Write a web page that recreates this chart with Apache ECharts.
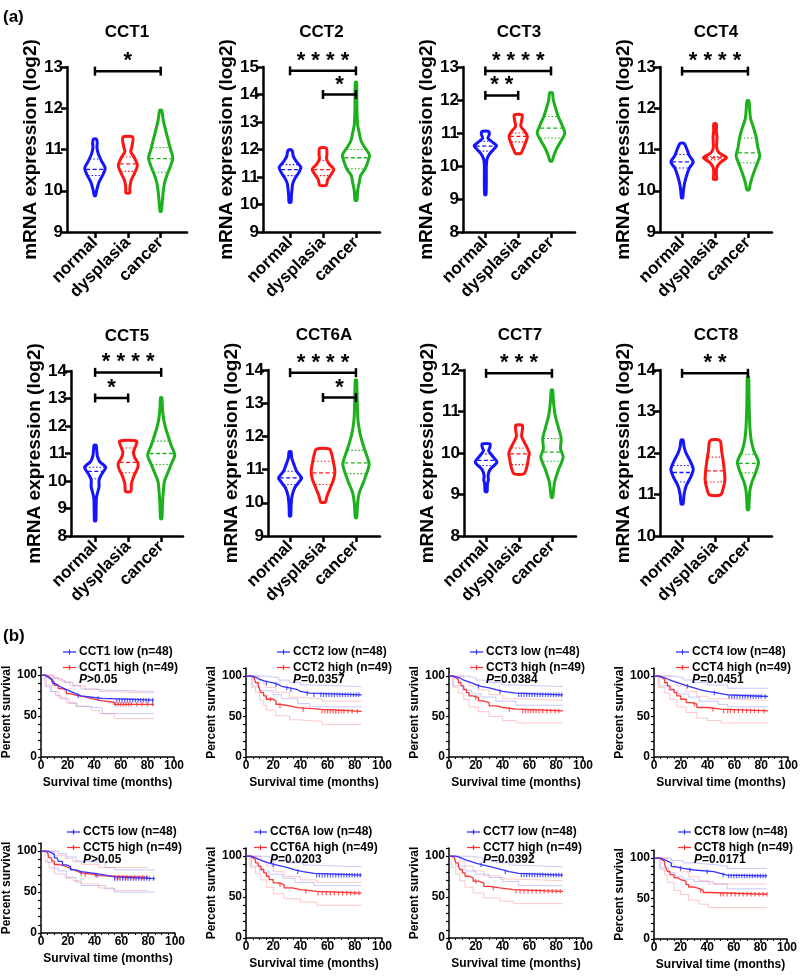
<!DOCTYPE html>
<html><head><meta charset="utf-8">
<script src="https://cdn.jsdelivr.net/npm/echarts@6/dist/echarts.min.js"></script>
<style>html,body{margin:0;padding:0;background:#fff}#c{width:800px;height:976px}</style>
</head><body><div id="c"></div>
<script>
// ---------------- DATA ----------------
const groups = ['normal', 'dysplasia', 'cancer'];
const violinGenes = ['CCT1', 'CCT2', 'CCT3', 'CCT4', 'CCT5', 'CCT6A', 'CCT7', 'CCT8'];
const violinYMin = [9, 9, 8, 9, 8, 9, 8, 10];
const violinYMax = [13, 15, 13, 13, 14, 14, 12, 14];

// violin profiles: [log2 expression, half-width in group units]
const cct1Normal = [[9.88,0.02],[10.0,0.05],[10.2,0.12],[10.4,0.25],[10.55,0.31],[10.72,0.2],[10.9,0.1],[11.05,0.06],[11.15,0.07],[11.25,0.05]];
const cct1Dysplasia = [[9.95,0.06],[10.05,0.06],[10.25,0.1],[10.45,0.22],[10.62,0.29],[10.8,0.2],[10.95,0.09],[11.05,0.12],[11.3,0.15]];
const cct1Cancer = [[9.5,0.02],[9.75,0.05],[10.0,0.08],[10.2,0.12],[10.4,0.2],[10.6,0.3],[10.8,0.37],[11.0,0.3],[11.25,0.22],[11.5,0.14],[11.7,0.08],[11.95,0.03]];
const cct2Normal = [[10.08,0.03],[10.3,0.04],[10.55,0.06],[10.75,0.08],[10.95,0.15],[11.15,0.26],[11.35,0.33],[11.55,0.2],[11.75,0.1],[11.9,0.08],[11.98,0.05]];
const cct2Dysplasia = [[10.7,0.1],[10.9,0.14],[11.1,0.25],[11.28,0.33],[11.45,0.2],[11.65,0.11],[11.85,0.12],[12.05,0.1]];
const cct2Cancer = [[10.15,0.03],[10.5,0.05],[10.8,0.1],[11.05,0.14],[11.3,0.28],[11.55,0.36],[11.8,0.41],[12.05,0.28],[12.3,0.16],[12.6,0.1],[12.9,0.05],[13.5,0.03],[14.45,0.02]];
const cct3Normal = [[9.13,0.02],[9.6,0.03],[10.0,0.03],[10.2,0.05],[10.35,0.12],[10.5,0.25],[10.62,0.34],[10.75,0.18],[10.85,0.08],[10.95,0.12],[11.05,0.1]];
const cct3Dysplasia = [[10.38,0.08],[10.5,0.14],[10.7,0.22],[10.9,0.28],[11.05,0.2],[11.2,0.08],[11.35,0.1],[11.55,0.12]];
const cct3Cancer = [[10.15,0.03],[10.3,0.08],[10.5,0.16],[10.75,0.3],[11.0,0.42],[11.25,0.33],[11.5,0.22],[11.75,0.14],[12.0,0.07],[12.22,0.04]];
const cct4Normal = [[9.83,0.02],[10.0,0.04],[10.2,0.08],[10.4,0.15],[10.55,0.22],[10.7,0.34],[10.85,0.22],[11.0,0.15],[11.15,0.06]];
const cct4Dysplasia = [[10.28,0.05],[10.4,0.04],[10.55,0.05],[10.68,0.15],[10.8,0.35],[10.92,0.12],[11.05,0.05],[11.3,0.06],[11.45,0.04],[11.62,0.04]];
const cct4Cancer = [[10.02,0.03],[10.2,0.08],[10.45,0.18],[10.7,0.3],[10.85,0.36],[11.05,0.3],[11.3,0.25],[11.5,0.18],[11.75,0.08],[12.0,0.05],[12.18,0.03]];
const cct5Normal = [[8.55,0.02],[9.0,0.03],[9.4,0.04],[9.6,0.08],[9.8,0.12],[10.05,0.12],[10.25,0.2],[10.5,0.32],[10.7,0.14],[10.9,0.07],[11.1,0.05],[11.3,0.03]];
const cct5Dysplasia = [[9.62,0.08],[9.9,0.1],[10.2,0.18],[10.45,0.28],[10.65,0.3],[10.85,0.2],[11.05,0.16],[11.25,0.22],[11.45,0.26]];
const cct5Cancer = [[8.63,0.02],[9.2,0.04],[9.7,0.07],[10.0,0.1],[10.3,0.2],[10.6,0.3],[10.95,0.41],[11.3,0.3],[11.6,0.22],[11.9,0.14],[12.2,0.08],[12.6,0.04],[13.03,0.02]];
const cct6aNormal = [[9.6,0.02],[9.9,0.03],[10.2,0.06],[10.45,0.14],[10.6,0.25],[10.75,0.35],[10.95,0.2],[11.15,0.12],[11.35,0.05],[11.54,0.03]];
const cct6aDysplasia = [[10.02,0.07],[10.2,0.12],[10.45,0.22],[10.7,0.32],[10.95,0.36],[11.2,0.32],[11.4,0.28],[11.62,0.2]];
const cct6aCancer = [[9.55,0.02],[10.0,0.05],[10.3,0.1],[10.6,0.22],[10.9,0.33],[11.17,0.4],[11.5,0.3],[11.8,0.2],[12.1,0.12],[12.5,0.06],[13.0,0.04],[13.7,0.02]];
const cct7Normal = [[9.07,0.03],[9.25,0.04],[9.35,0.07],[9.45,0.06],[9.6,0.12],[9.78,0.33],[9.92,0.2],[10.05,0.08],[10.15,0.12],[10.22,0.12]];
const cct7Dysplasia = [[9.5,0.15],[9.7,0.25],[9.85,0.28],[10.0,0.31],[10.2,0.2],[10.4,0.08],[10.55,0.1],[10.67,0.1]];
const cct7Cancer = [[8.93,0.02],[9.3,0.08],[9.6,0.2],[9.9,0.34],[10.1,0.26],[10.35,0.28],[10.6,0.2],[10.9,0.1],[11.2,0.05],[11.52,0.02]];
const cct8Normal = [[10.77,0.03],[11.0,0.06],[11.2,0.12],[11.4,0.25],[11.6,0.34],[11.8,0.25],[12.0,0.12],[12.15,0.06],[12.31,0.03]];
const cct8Dysplasia = [[10.99,0.17],[11.15,0.25],[11.35,0.3],[11.6,0.28],[11.85,0.24],[12.05,0.2],[12.3,0.15]];
const cct8Cancer = [[10.63,0.02],[10.9,0.04],[11.1,0.06],[11.3,0.12],[11.5,0.22],[11.78,0.32],[12.05,0.18],[12.3,0.1],[12.6,0.06],[13.0,0.04],[13.4,0.03],[13.84,0.02]];

// quartiles per group: [Q1, median, Q3]
const cct1Quart = [[10.37,10.52,10.77],[10.47,10.65,10.82],[10.45,10.78,11.05]];
const cct2Quart = [[11.05,11.27,11.45],[11.05,11.27,11.6],[11.3,11.7,12.0]];
const cct3Quart = [[10.45,10.6,10.75],[10.73,10.9,11.0],[10.85,11.15,11.5]];
const cct4Quart = [[10.55,10.7,10.88],[10.75,10.8,10.83],[10.68,10.92,11.28]];
const cct5Quart = [[10.08,10.35,10.5],[10.3,10.68,11.2],[10.6,11.0,11.45]];
const cct6aQuart = [[10.55,10.75,10.95],[10.55,10.9,11.25],[10.88,11.2,11.58]];
const cct7Quart = [[9.7,9.82,9.98],[9.72,9.98,10.12],[9.8,10.02,10.35]];
const cct8Quart = [[11.3,11.53,11.7],[11.3,11.57,11.9],[11.52,11.75,11.97]];

// significance brackets: [from group, to group, level, stars]
const cct1Sig = [[1,3,12.9,'*']];
const cct2Sig = [[1,3,14.86,'****'],[2,3,14.0,'*']];
const cct3Sig = [[1,3,12.88,'****'],[1,2,12.14,'**']];
const cct4Sig = [[1,3,12.9,'****']];
const cct5Sig = [[1,3,13.95,'****'],[1,2,13.02,'*']];
const cct6aSig = [[1,3,13.92,'****'],[2,3,13.17,'*']];
const cct7Sig = [[1,3,11.92,'***']];
const cct8Sig = [[1,3,13.92,'**']];

// Kaplan-Meier: [months, percent survival]
const kmGenes = ['CCT1','CCT2','CCT3','CCT4','CCT5','CCT6A','CCT7','CCT8'];
const kmPValues = ['>0.05','=0.0357','=0.0384','=0.0451','>0.05','=0.0203','=0.0392','=0.0171'];
const kmXTicks = [0, 20, 40, 60, 80, 100];
const kmYTicks = [0, 50, 100];

const cct1Low = [[0,100],[3,97.9],[5,95.8],[7,93.7],[9,89.5],[11,87.4],[13,85.3],[15,83.2],[18,81.1],[21,79],[24,76.9],[27,74.8],[30,72.7],[40,71.6],[46,69.4],[85,69.4]];
const cct1High = [[0,100],[4,98],[6,95.9],[8,91.8],[10,87.7],[13,83.6],[16,81.6],[19,77.5],[22,75.5],[26,73.4],[33,71.3],[38,69.2],[44,66.9],[55,64.4],[85,64.4]];
const cct1LowUp = [[0,100],[5,100],[9,97],[13,94],[18,91],[24,87],[30,83],[40,82],[46,80],[85,80]];
const cct1LowDn = [[0,100],[3,86],[7,80],[11,75],[15,71],[21,66],[27,62],[30,60],[46,53],[85,53]];
const cct1HighUp = [[0,100],[6,100],[10,96],[16,92],[22,87],[33,83],[44,80],[55,78],[85,78]];
const cct1HighDn = [[0,100],[4,88],[8,80],[13,73],[19,66],[26,62],[38,57],[44,53],[55,47],[85,47]];
const cct1LowCens = [28,43,57,59,61,63,65,67,69,71,73,75,77,79,81,84];
const cct1HighCens = [56,58,60,62,64,66,68,72,76,80,84];

const cct2Low = [[0,100],[5,97.9],[8,95.8],[10,93.7],[14,91.6],[20,89.5],[24,87.4],[26,85.3],[32,83.2],[38,81],[40,78.9],[47,76.8],[85,76.8]];
const cct2High = [[0,100],[4,98],[6,95.9],[7,91.8],[9,87.7],[10,83.6],[11,79.5],[13,75.5],[15,71.4],[20,69.3],[22,65.2],[25,63.1],[32,61],[38,58.8],[56,56.5],[85,56.5]];
const cct2LowUp = [[0,100],[8,100],[14,98],[24,95],[32,92],[40,89],[47,87],[85,87]];
const cct2LowDn = [[0,100],[5,88],[10,82],[20,77],[26,72],[38,66],[47,62],[85,62]];
const cct2HighUp = [[0,100],[7,100],[10,95],[13,90],[15,86],[22,80],[32,74],[38,72],[56,69],[85,69]];
const cct2HighDn = [[0,100],[4,86],[7,80],[10,70],[13,64],[15,58],[22,51],[32,46],[38,44],[56,40],[85,40]];
const cct2LowCens = [15,22,30,33,45,50,55,57,59,61,63,65,67,69,71,73,75,77,79,81,83];
const cct2HighCens = [18,25,42,56,58,60,62,64,66,68,70,72,75,78,82];

const cct3Low = [[0,100],[3,97.9],[8,95.8],[10,93.7],[13,91.6],[17,89.5],[20,87.4],[24,85.3],[30,83.2],[35,81.1],[40,79],[50,76.8],[85,76.8]];
const cct3High = [[0,100],[3,98],[5,95.9],[7,91.8],[9,87.8],[11,83.7],[13,79.6],[15,75.5],[18,73.5],[22,69.4],[25,67.3],[30,63.2],[35,61.2],[40,59.1],[50,57],[85,57]];
const cct3LowUp = [[0,100],[8,100],[13,98],[20,95],[30,92],[40,89],[50,87],[85,87]];
const cct3LowDn = [[0,100],[3,88],[10,82],[17,78],[24,74],[35,69],[50,64],[85,64]];
const cct3HighUp = [[0,100],[7,100],[11,94],[15,88],[22,83],[30,77],[40,72],[50,70],[85,70]];
const cct3HighDn = [[0,100],[3,86],[7,79],[11,71],[15,62],[22,56],[30,50],[40,45],[50,42],[85,42]];
const cct3LowCens = [22,38,52,54,56,58,60,62,64,66,68,70,72,74,76,78,80,82,84];
const cct3HighCens = [20,45,55,57,59,61,63,65,67,70,73,76,79,82];

const cct4Low = [[0,100],[4,97.9],[8,95.8],[11,93.7],[14,91.6],[18,89.5],[22,87.4],[26,85.3],[30,83.2],[34,81.1],[40,79],[48,76.9],[55,74.8],[85,74.8]];
const cct4High = [[0,100],[3,98],[6,95.9],[8,91.8],[10,87.8],[12,83.7],[15,79.6],[17,75.5],[20,71.4],[24,67.3],[28,65.3],[32,61.2],[40,59.1],[50,57],[85,57]];
const cct4LowUp = [[0,100],[8,100],[14,98],[22,95],[30,92],[40,89],[55,85],[85,85]];
const cct4LowDn = [[0,100],[4,88],[11,82],[18,78],[26,74],[34,69],[48,65],[55,62],[85,62]];
const cct4HighUp = [[0,100],[8,100],[12,94],[17,88],[24,81],[32,75],[40,72],[50,70],[85,70]];
const cct4HighDn = [[0,100],[3,86],[8,79],[12,71],[17,62],[24,55],[32,48],[40,45],[50,42],[85,42]];
const cct4LowCens = [25,45,56,58,60,62,64,66,68,70,72,74,76,78,80,83];
const cct4HighCens = [30,44,52,55,57,60,63,66,69,72,75,78,82];

const cct5Low = [[0,100],[5,97.9],[8,95.8],[10,91.7],[12,89.6],[13,87.5],[16,83.3],[19,81.2],[22,77.1],[26,75],[30,72.9],[40,70.8],[48,68.7],[55,66.5],[85,66.5]];
const cct5High = [[0,100],[3,98],[5,95.9],[6,91.8],[8,87.8],[10,83.7],[14,81.6],[18,79.6],[21,77.5],[24,75.5],[27,73.4],[30,71.3],[40,70.2],[43,68.1],[80,68.1]];
const cct5LowUp = [[0,100],[10,100],[13,97],[19,93],[26,88],[30,86],[48,80],[55,77],[85,77]];
const cct5LowDn = [[0,100],[5,86],[10,79],[13,76],[19,68],[26,62],[30,58],[48,54],[55,50],[85,50]];
const cct5HighUp = [[0,100],[6,100],[10,95],[18,91],[24,87],[30,84],[43,80],[80,80]];
const cct5HighDn = [[0,100],[3,87],[6,80],[10,72],[18,67],[24,64],[30,60],[43,55],[55,52],[80,52]];
const cct5LowCens = [30,41,55,57,59,61,63,65,67,69,71,73,75,77,79,81,84];
const cct5HighCens = [33,42,55,58,61,64,67,70,73,76,79];

const cct6aLow = [[0,100],[4,97.9],[7,95.8],[10,93.7],[13,91.6],[17,89.5],[22,87.4],[27,85.3],[32,83.2],[36,81.1],[42,79],[50,76.8],[85,76.8]];
const cct6aHigh = [[0,100],[3,98],[5,95.9],[7,91.8],[9,87.8],[11,83.7],[13,79.6],[15,75.5],[17,71.4],[20,67.3],[24,65.3],[28,61.2],[34,59.1],[40,57],[52,54.9],[85,54.9]];
const cct6aLowUp = [[0,100],[7,100],[13,98],[22,95],[32,92],[42,89],[50,87],[85,87]];
const cct6aLowDn = [[0,100],[4,88],[10,82],[17,78],[27,73],[36,68],[50,64],[85,64]];
const cct6aHighUp = [[0,100],[7,100],[11,94],[15,88],[20,81],[28,75],[40,71],[52,68],[85,68]];
const cct6aHighDn = [[0,100],[3,86],[7,79],[11,71],[15,62],[20,54],[28,48],[40,44],[52,40],[85,40]];
const cct6aLowCens = [20,38,52,54,56,58,60,62,64,66,68,70,72,74,76,78,80,82,84];
const cct6aHighCens = [25,44,53,56,59,62,65,68,71,74,77,80,83];

const cct7Low = [[0,100],[5,97.9],[9,95.8],[12,93.7],[16,91.6],[20,89.5],[25,87.4],[30,85.3],[35,83.2],[40,81.1],[45,79],[52,76.9],[85,76.9]];
const cct7High = [[0,100],[2,98],[4,95.9],[5,91.8],[7,87.8],[8,83.7],[10,79.6],[12,75.5],[15,73.5],[18,69.4],[22,67.3],[26,63.2],[30,61.2],[38,59.1],[48,57],[85,57]];
const cct7LowUp = [[0,100],[9,100],[16,98],[25,95],[35,92],[45,89],[52,87],[85,87]];
const cct7LowDn = [[0,100],[5,88],[12,82],[20,78],[30,74],[40,69],[52,64],[85,64]];
const cct7HighUp = [[0,100],[5,100],[8,94],[12,88],[18,82],[26,76],[38,72],[48,70],[85,70]];
const cct7HighDn = [[0,100],[2,86],[5,78],[8,70],[12,62],[18,55],[26,49],[38,45],[48,42],[85,42]];
const cct7LowCens = [24,42,54,56,58,60,62,64,66,68,70,72,74,76,78,80,82,84];
const cct7HighCens = [20,33,50,53,56,59,62,65,68,71,74,77,80,83];

const cct8Low = [[0,100],[5,97.9],[8,95.8],[11,93.7],[13,89.5],[16,87.4],[22,85.3],[30,83.2],[45,81.1],[50,79],[55,77.9],[85,77.9]];
const cct8High = [[0,100],[4,98],[6,95.9],[8,91.8],[9,87.8],[10,83.7],[12,79.6],[15,75.5],[18,73.5],[20,71.4],[24,67.3],[26,64.3],[30,62.2],[34,60.1],[37,57.5],[41,55.3],[85,55.3]];
const cct8LowUp = [[0,100],[8,100],[13,97],[22,94],[30,92],[45,90],[55,87],[85,87]];
const cct8LowDn = [[0,100],[5,88],[11,82],[16,77],[22,74],[30,71],[45,68],[55,62],[85,62]];
const cct8HighUp = [[0,100],[8,100],[10,95],[15,88],[20,83],[26,77],[34,72],[41,68],[85,68]];
const cct8HighDn = [[0,100],[4,86],[8,79],[10,70],[15,60],[20,55],[26,48],[34,43],[41,39],[85,39]];
const cct8LowCens = [20,27,40,52,56,58,60,62,64,66,68,70,72,74,76,78,80,82,84];
const cct8HighCens = [35,50,52,55,58,61,64,67,70,73,76,79,82,85];

// ---------------- ASSEMBLY ----------------
const violinSets = [
  [cct1Normal, cct1Dysplasia, cct1Cancer, cct1Quart, cct1Sig],
  [cct2Normal, cct2Dysplasia, cct2Cancer, cct2Quart, cct2Sig],
  [cct3Normal, cct3Dysplasia, cct3Cancer, cct3Quart, cct3Sig],
  [cct4Normal, cct4Dysplasia, cct4Cancer, cct4Quart, cct4Sig],
  [cct5Normal, cct5Dysplasia, cct5Cancer, cct5Quart, cct5Sig],
  [cct6aNormal, cct6aDysplasia, cct6aCancer, cct6aQuart, cct6aSig],
  [cct7Normal, cct7Dysplasia, cct7Cancer, cct7Quart, cct7Sig],
  [cct8Normal, cct8Dysplasia, cct8Cancer, cct8Quart, cct8Sig]
];
const kmSets = [
  [cct1Low, cct1High, cct1LowUp, cct1LowDn, cct1HighUp, cct1HighDn, cct1LowCens, cct1HighCens],
  [cct2Low, cct2High, cct2LowUp, cct2LowDn, cct2HighUp, cct2HighDn, cct2LowCens, cct2HighCens],
  [cct3Low, cct3High, cct3LowUp, cct3LowDn, cct3HighUp, cct3HighDn, cct3LowCens, cct3HighCens],
  [cct4Low, cct4High, cct4LowUp, cct4LowDn, cct4HighUp, cct4HighDn, cct4LowCens, cct4HighCens],
  [cct5Low, cct5High, cct5LowUp, cct5LowDn, cct5HighUp, cct5HighDn, cct5LowCens, cct5HighCens],
  [cct6aLow, cct6aHigh, cct6aLowUp, cct6aLowDn, cct6aHighUp, cct6aHighDn, cct6aLowCens, cct6aHighCens],
  [cct7Low, cct7High, cct7LowUp, cct7LowDn, cct7HighUp, cct7HighDn, cct7LowCens, cct7HighCens],
  [cct8Low, cct8High, cct8LowUp, cct8LowDn, cct8HighUp, cct8HighDn, cct8LowCens, cct8HighCens]
];

// layout (pixels)
const vLayout = [
  {left:67, top:67, w:120, h:165, xmin:0.15, xmax:3.8},
  {left:263, top:67, w:117, h:165, xmin:0.18, xmax:3.73},
  {left:463, top:67, w:112, h:165, xmin:0.32, xmax:3.73},
  {left:660, top:67, w:112, h:165, xmin:0.33, xmax:3.73},
  {left:71, top:371, w:112, h:165, xmin:0.27, xmax:3.66},
  {left:268, top:370, w:112, h:166, xmin:0.33, xmax:3.73},
  {left:464, top:370, w:112, h:166, xmin:0.33, xmax:3.73},
  {left:660, top:370, w:112, h:166, xmin:0.33, xmax:3.73}
];
const kmLayout = [
  {left:41, top:667, w:133, h:90, legX:63, legY:652},
  {left:246, top:668, w:136, h:89, legX:277, legY:652},
  {left:449, top:668, w:134, h:89, legX:470, legY:652},
  {left:654, top:668, w:134, h:89, legX:676, legY:652},
  {left:41, top:843, w:134, h:90, legX:67, legY:832},
  {left:246, top:848, w:136, h:90, legX:254, legY:832},
  {left:449, top:848, w:134, h:90, legX:467, legY:832},
  {left:654, top:850, w:133, h:89, legX:678, legY:832}
];

const FONT = '"Liberation Sans", Arial, Helvetica, sans-serif';
const vColors = ['#1414ff', '#ff1414', '#1cb01c'];
const kmBlue = '#3434ff', kmRed = '#ff3434';
const kmBlueCI = 'rgba(80,80,255,0.32)', kmRedCI = 'rgba(255,80,80,0.32)';

const grids = [], xAxes = [], yAxes = [], series = [], graphics = [];

function halfWidthAt(prof, y) {
  if (y <= prof[0][0]) return prof[0][1];
  for (let k = 1; k < prof.length; k++) {
    if (y <= prof[k][0]) {
      const a = prof[k-1], b = prof[k];
      return a[1] + (b[1]-a[1]) * (y-a[0]) / (b[0]-a[0]);
    }
  }
  return prof[prof.length-1][1];
}

violinSets.forEach((set, i) => {
  const L = vLayout[i];
  grids.push({left:L.left, top:L.top, width:L.w, height:L.h, outerBoundsMode:'none', containLabel:false});
  xAxes.push({
    gridIndex:i, type:'value', min:L.xmin, max:L.xmax,
    axisLine:{show:true, onZero:false, lineStyle:{color:'#000', width:2.5}},
    axisTick:{show:true, customValues:[1,2,3], length:6, lineStyle:{color:'#000', width:2.5}},
    axisLabel:{show:true, customValues:[1,2,3], formatter:v => groups[Math.round(v)-1], rotate:45,
      color:'#000', fontSize:17, fontWeight:'bold', fontFamily:FONT, margin:8},
    splitLine:{show:false}
  });
  yAxes.push({
    gridIndex:i, type:'value', min:violinYMin[i], max:violinYMax[i], interval:1,
    name:'mRNA expression (log2)', nameLocation:'middle', nameGap:26,
    nameTextStyle:{color:'#000', fontSize:19, fontWeight:'bold', fontFamily:FONT},
    axisLine:{show:true, onZero:false, lineStyle:{color:'#000', width:2.5}},
    axisTick:{show:true, length:6, lineStyle:{color:'#000', width:2.5}},
    axisLabel:{color:'#000', fontSize:17, fontWeight:'bold', fontFamily:FONT, margin:4},
    splitLine:{show:false}
  });
  const profiles = [set[0], set[1], set[2]];
  const quart = set[3];
  const sig = set[4];
  series.push({
    type:'custom', xAxisIndex:i, yAxisIndex:i, clip:false, silent:true,
    data: groups.map((g, k) => [k+1, quart[k][1]]),
    renderItem: function (params, api) {
      const k = params.dataIndex;
      const prof = profiles[k];
      const xc = k + 1;
      const color = vColors[k];
      const right = prof.map(p => api.coord([xc + p[1], p[0]]));
      const left = prof.slice().reverse().map(p => api.coord([xc - p[1], p[0]]));
      const children = [{
        type:'polygon', shape:{points:right.concat(left), smooth:0.25},
        style:{fill:'#fff', stroke:color, lineWidth:3, lineJoin:'round'}
      }];
      quart[k].forEach((q, j) => {
        const hw = halfWidthAt(prof, q) * 0.9;
        const a = api.coord([xc - hw, q]), b = api.coord([xc + hw, q]);
        children.push({
          type:'line', shape:{x1:a[0], y1:a[1], x2:b[0], y2:b[1]},
          style:{stroke:color, lineWidth: j === 1 ? 1.3 : 1.1, lineDash: j === 1 ? [4,2.5] : [1.5,2]}
        });
      });
      return {type:'group', children};
    }
  });
  series.push({
    type:'custom', xAxisIndex:i, yAxisIndex:i, clip:false, silent:true,
    data: sig.map(s => [s[0], s[2]]),
    renderItem: function (params, api) {
      const s = sig[params.dataIndex];
      const a = api.coord([s[0], s[2]]), b = api.coord([s[1], s[2]]);
      return {type:'group', children:[
        {type:'line', shape:{x1:a[0], y1:a[1], x2:b[0], y2:b[1]}, style:{stroke:'#000', lineWidth:2.5}},
        {type:'line', shape:{x1:a[0], y1:a[1]-4.5, x2:a[0], y2:a[1]+4.5}, style:{stroke:'#000', lineWidth:2.5}},
        {type:'line', shape:{x1:b[0], y1:b[1]-4.5, x2:b[0], y2:b[1]+4.5}, style:{stroke:'#000', lineWidth:2.5}},
        {type:'text', x:(a[0]+b[0])/2, y:a[1]-10,
          style:{text:s[3].split('').join(' '), align:'center', verticalAlign:'middle',
            fill:'#000', font:'bold 22px ' + FONT}}
      ]};
    }
  });
  graphics.push({type:'text', x:L.left + L.w/2, y:L.top - 35,
    style:{text:violinGenes[i], align:'center', verticalAlign:'middle', fill:'#000', font:'bold 17px ' + FONT}});
});

function stepAt(curve, t) {
  let v = curve[0][1];
  for (const p of curve) { if (p[0] <= t) v = p[1]; }
  return v;
}

kmSets.forEach((set, j) => {
  const i = 8 + j;
  const L = kmLayout[j];
  grids.push({left:L.left, top:L.top, width:L.w, height:L.h, outerBoundsMode:'none', containLabel:false});
  xAxes.push({
    gridIndex:i, type:'value', min:0, max:100, interval:20,
    name:'Survival time (months)', nameLocation:'middle', nameGap:20,
    nameTextStyle:{color:'#000', fontSize:12, fontWeight:'bold', fontFamily:FONT},
    axisLine:{show:true, onZero:false, lineStyle:{color:'#000', width:1.5}},
    axisTick:{show:true, length:4, lineStyle:{color:'#000', width:1.5}},
    minorTick:{show:true, splitNumber:4, length:2, lineStyle:{color:'#000', width:1}},
    axisLabel:{customValues:kmXTicks, color:'#000', fontSize:12, fontWeight:'bold', fontFamily:FONT, margin:3},
    splitLine:{show:false}, minorSplitLine:{show:false}
  });
  yAxes.push({
    gridIndex:i, type:'value', min:0, max:110,
    name:'Percent survival', nameLocation:'middle', nameGap:26,
    nameTextStyle:{color:'#000', fontSize:12, fontWeight:'bold', fontFamily:FONT},
    axisLine:{show:true, onZero:false, lineStyle:{color:'#000', width:1.5}},
    axisTick:{show:true, length:3, customValues:[0,10,20,30,40,50,60,70,80,90,100,110], lineStyle:{color:'#000', width:1.2}},
    axisLabel:{customValues:kmYTicks, color:'#000', fontSize:12, fontWeight:'bold', fontFamily:FONT, margin:4},
    splitLine:{show:false}
  });
  const [low, high, lowUp, lowDn, highUp, highDn, lowCens, highCens] = set;
  const ci = (d, c) => ({type:'line', xAxisIndex:i, yAxisIndex:i, data:d, step:'end', symbol:'none',
    lineStyle:{color:c, width:1}, silent:true, z:2});
  series.push(ci(lowUp, kmBlueCI), ci(lowDn, kmBlueCI), ci(highUp, kmRedCI), ci(highDn, kmRedCI));
  const main = (d, c) => ({type:'line', xAxisIndex:i, yAxisIndex:i, data:d, step:'end', symbol:'none',
    lineStyle:{color:c, width:1.3}, silent:true, z:3});
  series.push(main(high, kmRed), main(low, kmBlue));
  const cens = (times, curve, c) => ({type:'scatter', xAxisIndex:i, yAxisIndex:i,
    data: times.map(t => [t, stepAt(curve, t)]), symbol:'rect', symbolSize:[1.2,4.5],
    itemStyle:{color:c}, silent:true, z:4});
  series.push(cens(highCens, high, kmRed), cens(lowCens, low, kmBlue));

  // legend
  const rows = [[kmGenes[j] + ' low (n=48)', kmBlue], [kmGenes[j] + ' high (n=49)', kmRed]];
  rows.forEach((r, k) => {
    const y = L.legY + k * 15.5;
    graphics.push({type:'line', shape:{x1:L.legX, y1:y, x2:L.legX+13, y2:y}, style:{stroke:r[1], lineWidth:1.3}});
    graphics.push({type:'line', shape:{x1:L.legX+6.5, y1:y-2.5, x2:L.legX+6.5, y2:y+2.5}, style:{stroke:r[1], lineWidth:1.2}});
    graphics.push({type:'text', x:L.legX+16, y:y,
      style:{text:r[0], align:'left', verticalAlign:'middle', fill:'#000', font:'bold 12px ' + FONT}});
  });
  graphics.push({type:'text', x:L.legX+16, y:L.legY + 28,
    style:{text:'{i|P}{n|' + kmPValues[j] + '}', align:'left', verticalAlign:'middle',
      rich:{i:{fontStyle:'italic', fontWeight:'bold', fontSize:12, fontFamily:FONT, fill:'#000'},
            n:{fontWeight:'bold', fontSize:12, fontFamily:FONT, fill:'#000'}}}});
});

graphics.push({type:'text', x:3, y:17, style:{text:'(a)', align:'left', verticalAlign:'middle', fill:'#000', font:'bold 17px ' + FONT}});
graphics.push({type:'text', x:3, y:636, style:{text:'(b)', align:'left', verticalAlign:'middle', fill:'#000', font:'bold 17px ' + FONT}});

const chart = echarts.init(document.getElementById('c'), null, {renderer:'canvas'});
chart.setOption({
  backgroundColor:'#fff', animation:false,
  grid:grids, xAxis:xAxes, yAxis:yAxes, series:series, graphic:graphics
});
</script>
</body></html>
